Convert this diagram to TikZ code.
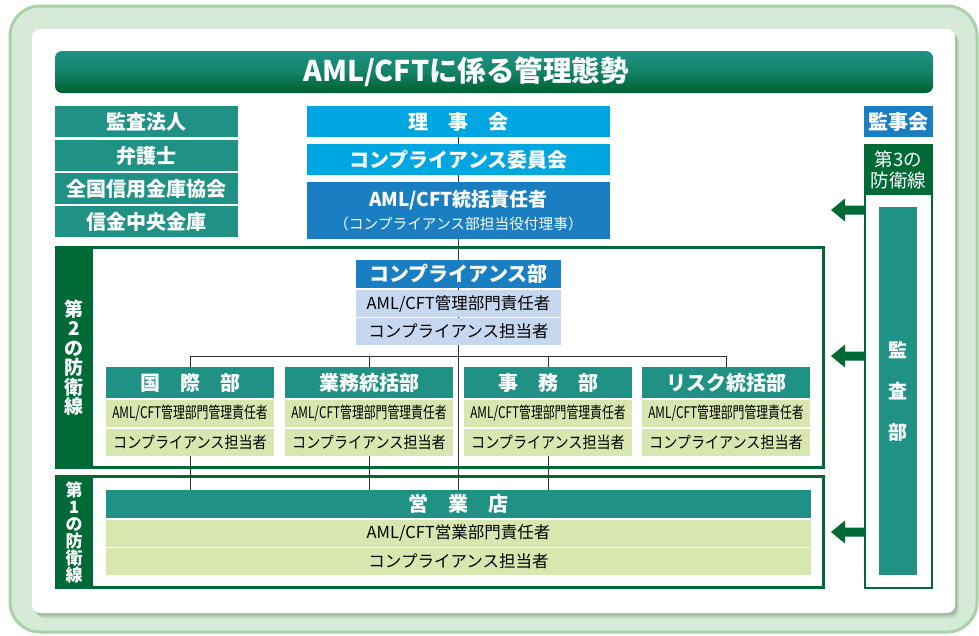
\documentclass[tikz,border=0pt]{standalone}
\usepackage{fontspec}
\setmainfont{Noto Sans CJK JP}
\newfontfamily\condA[FakeStretch=0.74]{Noto Sans CJK JP}
\newfontfamily\condB[FakeStretch=0.88]{Noto Sans CJK JP}
\definecolor{tealc}{HTML}{1F9285}
\definecolor{dkgreen}{HTML}{006A37}
\definecolor{cyanc}{HTML}{00A6E1}
\definecolor{bluec}{HTML}{1A7EC3}
\definecolor{ltblue}{HTML}{C5D8EF}
\definecolor{ltgreen}{HTML}{D7E7AF}
\definecolor{bgfill}{HTML}{D6EBD7}
\definecolor{bgedge}{HTML}{A7D3A6}
\definecolor{linec}{HTML}{333333}
\pgfdeclarelayer{back}
\pgfdeclarelayer{lines}
\pgfsetlayers{back,lines,main}
\newcommand\fHdr{\fontsize{20}{24}\selectfont\bfseries}
\newcommand\fRow{\fontsize{16.5}{19}\selectfont}
\newcommand\fSub{\fontsize{14.7}{17}\selectfont\mdseries}
\tikzset{
  cell/.style={inner sep=0pt, outer sep=0pt, anchor=center},
  tealbox/.style={cell, fill=tealc, text=white, font=\fHdr},
  cyanbox/.style={cell, fill=cyanc, text=white, font=\fHdr},
  bluebox/.style={cell, fill=bluec, text=white, font=\fHdr},
  lbrow/.style={cell, fill=ltblue, text=black, font=\fRow},
  lgrow/.style={cell, fill=ltgreen, text=black, font=\fRow},
  deptA/.style={cell, fill=ltgreen, text=black, font=\fontsize{16}{18}\selectfont\condA},
  deptB/.style={cell, fill=ltgreen, text=black, font=\fontsize{16}{18}\selectfont\condB},
  conn/.style={draw=linec, line width=1pt},
  frame/.style={draw=dkgreen, line width=3pt, fill=white},
  vlabel/.style={cell, text=white, align=center},
}
\begin{document}
\begin{tikzpicture}[x=1pt,y=-1pt]
\useasboundingbox (0,0) rectangle (979,635);
% ---------------- background ----------------
\begin{pgfonlayer}{back}
\fill[white] (0,0) rectangle (979,635);
\draw[bgedge, fill=bgfill, line width=3pt, rounded corners=30pt] (10,6) rectangle (977,632);
\foreach \o/\op in {7/0.10,5/0.15,3/0.2}{
  \fill[black!60!green!40!gray, opacity=\op, rounded corners=8pt] (32+\o*0.6,29+\o*0.8) rectangle (955+\o*0.6,613+\o*0.8);
}
\fill[white, rounded corners=8pt] (32,29) rectangle (955,613);
% frames
\draw[frame] (56.5,247.5) rectangle (823.5,467.5);
\draw[frame] (56.5,476.5) rectangle (823.5,587.5);
\draw[draw=dkgreen, line width=2pt, fill=white] (865,145) rectangle (932,588);
\end{pgfonlayer}
% ---------------- title ----------------
\shade[top color=tealc, bottom color=dkgreen!90!black, middle color=tealc!60!dkgreen, rounded corners=7pt] (55,51) rectangle (933,93);
\node[cell, text=white, font=\fontsize{28.5}{31}\selectfont\bfseries] (title) at (466,72) {AML/CFTに係る管理態勢};
% ---------------- left boxes ----------------
\node[tealbox, minimum width=183, minimum height=31] (kansa) at (146.5,121.5) {監査法人};
\node[tealbox, minimum width=183, minimum height=31] (bengo) at (146.5,155.5) {弁護士};
\node[tealbox, minimum width=183, minimum height=31] (zenshin) at (146.5,188.5) {全国信用金庫協会};
\node[tealbox, minimum width=183, minimum height=31] (shinkin) at (146.5,221.5) {信金中央金庫};
% ---------------- top chain ----------------
\node[cyanbox, minimum width=303, minimum height=31] (riji) at (458.5,121.5) {理　事　会};
\node[cyanbox, minimum width=303, minimum height=31] (iin) at (458.5,159.5) {コンプライアンス委員会};
\node[bluebox, minimum width=303, minimum height=57, align=center] (toukatsu) at (458.5,210.5)
  {\fontsize{19}{22}\selectfont\bfseries AML/CFT統括責任者\\[-1pt]\fSub（コンプライアンス部担当役付理事）};
% ---------------- 2nd line ----------------
\fill[dkgreen] (55,246) rectangle (93,469);
\node[vlabel, font=\fontsize{19}{19.5}\selectfont\bfseries] (line2) at (74,357.5) {第\\2\\の\\防\\衛\\線};
\node[bluebox, minimum width=205, minimum height=28] (comp) at (458.5,274) {コンプライアンス部};
\node[lbrow, minimum width=205, minimum height=27] (compA) at (458.5,303.5) {AML/CFT管理部門責任者};
\node[lbrow, minimum width=205, minimum height=27] (compB) at (458.5,331.5) {コンプライアンス担当者};
\foreach \nm/\cx/\tx in {kokusai/190/国　際　部, gyomu/369/業務統括部, jimu/548/事　務　部, risk/726/リスク統括部}{
  \node[tealbox, minimum width=168, minimum height=31] (\nm) at (\cx,382.5) {\tx};
  \node[deptA, minimum width=168, minimum height=27] (\nm A) at (\cx,413.5) {AML/CFT管理部門管理責任者};
  \node[deptB, minimum width=168, minimum height=27] (\nm B) at (\cx,442.5) {コンプライアンス担当者};
}
% ---------------- 1st line ----------------
\fill[dkgreen] (55,475) rectangle (93,589);
\node[vlabel, font=\fontsize{17}{17}\selectfont\bfseries] (line1) at (74,532) {第\\1\\の\\防\\衛\\線};
\node[tealbox, minimum width=705, minimum height=28] (eigyo) at (458.5,504) {営　業　店};
\node[lgrow, minimum width=705, minimum height=27] (eigyoA) at (458.5,533.5) {AML/CFT営業部門責任者};
\node[lgrow, minimum width=705, minimum height=27] (eigyoB) at (458.5,561.5) {コンプライアンス担当者};
% ---------------- right side ----------------
\node[bluebox, minimum width=69, minimum height=31] (kanji) at (898.5,121.5) {監事会};
\node[cell, fill=dkgreen, minimum width=69, minimum height=51, text=white, align=center,
  font=\fontsize{18.5}{21}\selectfont] (line3) at (898.5,169.5) {第3の\\防衛線};
\node[cell, fill=tealc, minimum width=38, minimum height=368, text=white, align=center,
  font=\fontsize{19}{41}\selectfont\bfseries] (kansabu) at (898,391) {監\\査\\部};
% arrows
\foreach \ay/\nm in {210/a1,356/a2,532/a3}{
  \coordinate (\nm) at (864,\ay);
  \fill[dkgreen] (\nm) -- ++(0,-4.5) -- ++(-19,0) -- ++(0,-7) -- ++(-14,11.5) -- ++(14,11.5) -- ++(0,-7) -- ++(19,0) -- cycle;
}
% ---------------- connectors ----------------
\begin{pgfonlayer}{lines}
\draw[conn] (riji.south) -- (eigyo.north);
\draw[conn] (kokusai.north) |- (risk.north |- 0,356) -- (risk.north);
\draw[conn] (gyomu.north) -- (gyomu.north |- 0,356);
\draw[conn] (jimu.north) -- (jimu.north |- 0,356);
\draw[conn] (kokusaiB.south) -- (kokusaiB.south |- eigyo.north);
\draw[conn] (gyomuB.south) -- (gyomuB.south |- eigyo.north);
\draw[conn] (jimuB.south) -- (jimuB.south |- eigyo.north);
\end{pgfonlayer}
\end{tikzpicture}
\end{document}
